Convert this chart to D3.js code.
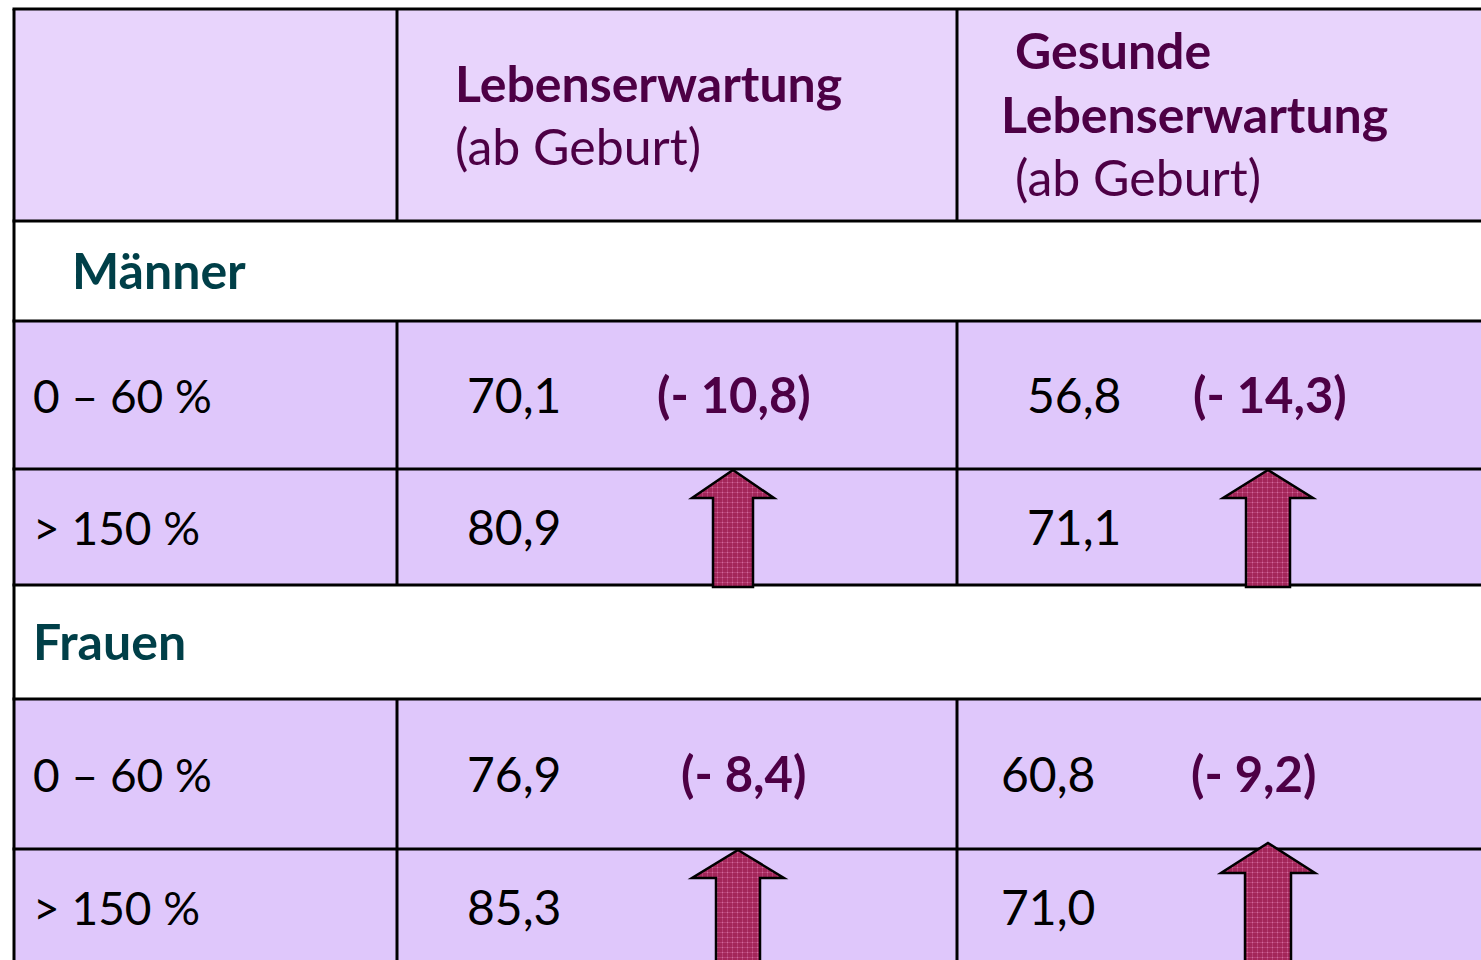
<!DOCTYPE html>
<html>
<head>
<meta charset="utf-8">
<script src="https://cdn.jsdelivr.net/npm/d3@7"></script>
<style>
  html, body { margin: 0; padding: 0; background: #fff; overflow: hidden; }
  text { font-family: Lato, "Open Sans", sans-serif; }
</style>
</head>
<body>
<div id="chart"></div>
<script>
// table content
var groups = ["Männer", "Frauen"];
var incomeBands = ["0 – 60 %", "> 150 %"];
var lifeExp = [[70.1, 80.9], [76.9, 85.3]];       // Lebenserwartung (ab Geburt)
var healthyExp = [[56.8, 71.1], [60.8, 71.0]];    // Gesunde Lebenserwartung (ab Geburt)
var lifeDiff = [-10.8, -8.4];
var healthyDiff = [-14.3, -9.2];

var W = 1481, H = 960;
var purple = "#4d0045", teal = "#003f48";

var svg = d3.select("#chart").append("svg")
  .attr("width", W).attr("height", H);

// checkered fill of the arrows
var pat = svg.append("defs").append("pattern")
  .attr("id", "check").attr("patternUnits", "userSpaceOnUse")
  .attr("width", 5).attr("height", 5);
pat.append("rect").attr("width", 5).attr("height", 5).attr("fill", "#a32659");
pat.append("rect").attr("x", 0).attr("y", 2).attr("width", 5).attr("height", 1).attr("fill", "#b63f74");
pat.append("rect").attr("x", 2).attr("y", 0).attr("width", 1).attr("height", 5).attr("fill", "#b63f74");
pat.append("rect").attr("x", 2).attr("y", 2).attr("width", 1).attr("height", 1).attr("fill", "#d06a9c");

// row layout: header, group, band, band, group, band, band
var rowKinds = ["head", "group", "band", "band", "group", "band", "band"];
var rowHeights = [212, 100, 148, 116, 114, 150, 116];
var rowEdges = [9];
rowHeights.forEach(function(h, i) { rowEdges.push(rowEdges[i] + h); });
var y = function(i) { return rowEdges[i]; };
var mid = function(i) { return rowEdges[i] + rowHeights[i] / 2; };
var last = rowKinds.length - 1;

var x = d3.scaleOrdinal().domain(["label", "le", "hle", "end"]).range([14, 397, 957, 1520]);

// backgrounds (last row runs off the bottom)
svg.selectAll(".row").data(rowKinds).enter().append("rect")
  .attr("x", x("label")).attr("y", function(d, i) { return y(i); })
  .attr("width", x("end") - x("label"))
  .attr("height", function(d, i) { return i == last ? H + 10 - y(i) : rowHeights[i]; })
  .attr("fill", function(d) { return d == "head" ? "#e8d4fc" : d == "group" ? "#ffffff" : "#dfc7fb"; });

// horizontal lines
svg.selectAll(".hline").data(rowEdges.slice(0, last + 1)).enter().append("line")
  .attr("x1", x("label") - 1.5).attr("x2", x("end"))
  .attr("y1", function(d) { return d; }).attr("y2", function(d) { return d; })
  .attr("stroke", "#000").attr("stroke-width", 3);

// outer left border
svg.append("line").attr("x1", x("label")).attr("x2", x("label"))
  .attr("y1", rowEdges[0]).attr("y2", H + 10)
  .attr("stroke", "#000").attr("stroke-width", 3);

// column lines only in header and band rows
rowKinds.forEach(function(k, i) {
  if (k == "group") return;
  ["le", "hle"].forEach(function(c) {
    svg.append("line").attr("x1", x(c)).attr("x2", x(c))
      .attr("y1", y(i)).attr("y2", i == last ? H + 10 : y(i + 1))
      .attr("stroke", "#000").attr("stroke-width", 3);
  });
});

function txt(s, px, py, size, weight, color) {
  return svg.append("text").attr("x", px).attr("y", py)
    .attr("font-size", size).attr("font-weight", weight)
    .attr("fill", color).text(s);
}

// header
txt("Lebenserwartung", 455, 102, 50, 700, purple);
txt("(ab Geburt)", 455, 165, 50, 400, purple);
txt("Gesunde", 1015, 69, 50, 700, purple);
txt("Lebenserwartung", 1001, 133, 50, 700, purple);
txt("(ab Geburt)", 1015, 196, 50, 400, purple);

var fmt = function(v) { return v.toFixed(1).replace(".", ","); };
var fmtDiff = function(v) { return "(- " + fmt(Math.abs(v)) + ")"; };

// offsets per group (label indent, value x, diff x)
var groupLayout = [
  { labelX: 72, leX: 467, leDiffX: 657, hleX: 1027, hleDiffX: 1193 },
  { labelX: 33, leX: 467, leDiffX: 681, hleX: 1001, hleDiffX: 1191 }
];

function arrow(cx, tipY, headHalf, shaftHalf, headY, bottom) {
  var p = d3.path();
  p.moveTo(cx, tipY);
  p.lineTo(cx + headHalf, headY);
  p.lineTo(cx + shaftHalf, headY);
  p.lineTo(cx + shaftHalf, bottom);
  p.lineTo(cx - shaftHalf, bottom);
  p.lineTo(cx - shaftHalf, headY);
  p.lineTo(cx - headHalf, headY);
  p.closePath();
  svg.append("path").attr("d", p.toString())
    .attr("fill", "url(#check)").attr("stroke", "#000").attr("stroke-width", 2.5)
    .attr("stroke-linejoin", "miter");
}

groups.forEach(function(g, gi) {
  var base = gi * 3 + 1;
  var L = groupLayout[gi];
  txt(g, L.labelX, mid(base) + 18, 50, 700, teal);
  incomeBands.forEach(function(b, bi) {
    var r = base + 1 + bi;
    var by = mid(r) + 18;
    txt(b, 33, by, 46, 400, "#000");
    txt(fmt(lifeExp[gi][bi]), L.leX, by, 48, 400, "#000");
    txt(fmt(healthyExp[gi][bi]), L.hleX, by, 48, 400, "#000");
    if (bi == 0) {
      txt(fmtDiff(lifeDiff[gi]), L.leDiffX, by, 49, 700, purple);
      txt(fmtDiff(healthyDiff[gi]), L.hleDiffX, by, 49, 700, purple);
    }
  });
  var top = y(base + 2);
  var bottom = gi == 0 ? y(base + 3) + 2 : H + 10;
  if (gi == 0) {
    arrow(733, top + 1, 41, 20, top + 29, bottom);
    arrow(1268, top + 1, 45, 22, top + 29, bottom);
  } else {
    arrow(738, top + 1, 46, 22, top + 29, bottom);
    arrow(1268, top - 6, 47, 23, top + 24, bottom);
  }
});
</script>
</body>
</html>
